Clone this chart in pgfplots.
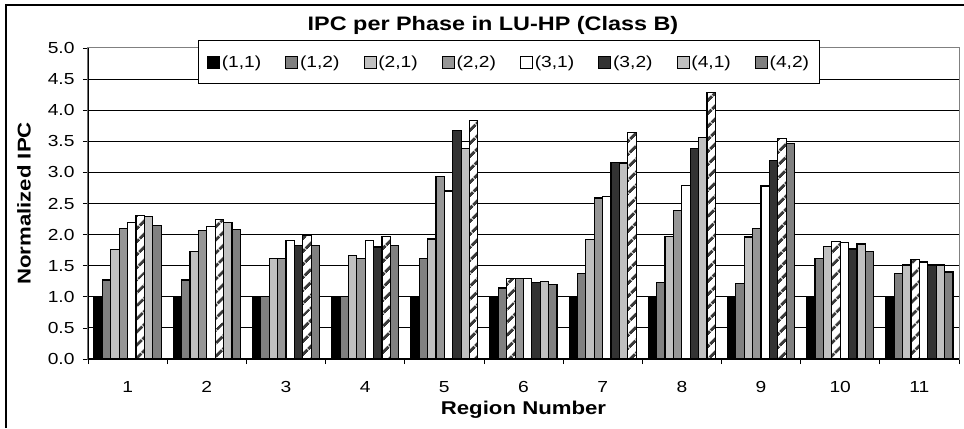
\documentclass[border=0pt]{standalone}
\usepackage{fontspec}
\setmainfont{Liberation Sans}[FakeStretch=1.2]
\usepackage{pgfplots}
\pgfplotsset{compat=1.18}
\usepackage{pgfplotstable}
\usetikzlibrary{patterns.meta}
\definecolor{cA}{HTML}{000000}
\definecolor{cB}{HTML}{808080}
\definecolor{cC}{HTML}{C0C0C0}
\definecolor{cD}{HTML}{969696}
\definecolor{cE}{HTML}{FFFFFF}
\definecolor{cF}{HTML}{333333}
\definecolor{cG}{HTML}{C0C0C0}
\definecolor{cH}{HTML}{808080}
\definecolor{hatch}{HTML}{3A3A3A}
\pgfplotstableread{
g s11 s12 s21 s22 s31 s32 s41 s42
1 1.00 1.27 1.76 2.10 2.20 2.31 2.29 2.14
2 1.00 1.27 1.73 2.07 2.13 2.24 2.20 2.08
3 1.00 1.00 1.61 1.62 1.90 1.82 1.99 1.83
4 1.00 1.01 1.66 1.61 1.91 1.80 1.97 1.82
5 1.00 1.61 1.93 2.94 2.70 3.68 3.38 3.83
6 1.00 1.14 1.30 1.29 1.29 1.23 1.24 1.20
7 1.00 1.38 1.92 2.59 2.61 3.16 3.15 3.64
8 1.00 1.23 1.97 2.39 2.79 3.39 3.56 4.29
9 1.00 1.21 1.96 2.10 2.78 3.19 3.54 3.47
10 1.00 1.61 1.81 1.89 1.87 1.77 1.85 1.73
11 1.00 1.37 1.51 1.60 1.56 1.51 1.51 1.40
}\data
\pgfplotsset{
  sq/.style={legend image code/.code={\draw[##1,line width=0.8bp] (0bp,-6bp) rectangle (12bp,6bp);}},
  hat/.style={draw=black, line width=1.2bp, fill=white, postaction={pattern={Lines[angle=45,distance=10bp,line width=3.5bp]}, pattern color=hatch}}
}
\begin{document}
\begin{tikzpicture}
\path[use as bounding box] (-88bp,-70bp) rectangle (876bp,359bp);
\begin{axis}[
  at={(0,0)}, anchor=south west,
  scale only axis, width=871bp, height=311bp,
  ybar, bar width=0.106,
  xmin=0.5, xmax=11.5, ymin=0, ymax=5,
  enlargelimits=false,
  xtick={0.5,1.5,2.5,3.5,4.5,5.5,6.5,7.5,8.5,9.5,10.5,11.5},
  xticklabels={1,2,3,4,5,6,7,8,9,10,11,{}},
  xticklabel style={anchor=center, xshift=39.59bp, yshift=-23bp, font=\fontsize{16bp}{19bp}\selectfont},
  ytick={0,0.5,...,5},
  yticklabel style={/pgf/number format/.cd, fixed, fixed zerofill, precision=1, assume math mode=true, /tikz/.cd, xshift=-5bp, font=\fontsize{16bp}{19bp}\selectfont},
  tick align=outside, tick pos=left,
  major tick length=5bp,
  tick style={black, line width=0.8bp},
  ymajorgrids, grid style={black, line width=1bp},
  axis line style={draw=gray, line width=1bp},
  every axis title shift=0pt,
  title={\bfseries IPC per Phase in LU-HP (Class B)},
  title style={at={(axis description cs:0.465,1)}, anchor=center, yshift=23bp, font=\fontsize{19.5bp}{23bp}\selectfont},
  xlabel={\bfseries Region Number},
  xlabel style={at={(axis description cs:0.5,0)}, anchor=center, yshift=-51bp, font=\fontsize{18.5bp}{22bp}\selectfont},
  ylabel={\bfseries Normalized IPC},
  ylabel style={at={(axis description cs:-0.0735,0.5)}, anchor=center, font=\fontsize{18.5bp}{22bp}\selectfont},
  legend columns=8,
  legend style={at={(axis description cs:0.4834,0.955)}, anchor=center, draw=black, line width=1bp, fill=white,
    font=\fontsize{16bp}{19bp}\selectfont, inner xsep=8bp, inner ysep=13bp,
    /tikz/every even column/.append style={column sep=22bp}},
  legend cell align=left,
]
\addplot[sq, fill=cA, draw=black, line width=1.2bp, bar shift=-0.371] table[x=g,y=s11]{\data};
\addplot[sq, fill=cB, draw=black, line width=1.2bp, bar shift=-0.265] table[x=g,y=s12]{\data};
\addplot[sq, fill=cC, draw=black, line width=1.2bp, bar shift=-0.159] table[x=g,y=s21]{\data};
\addplot[sq, fill=cD, draw=black, line width=1.2bp, bar shift=-0.053] table[x=g,y=s22]{\data};
\addplot[sq, fill=cE, draw=black, line width=1.2bp, bar shift=0.053] table[x=g,y=s31]{\data};
\addplot[sq, fill=cF, draw=black, line width=1.2bp, bar shift=0.159] table[x=g,y=s32]{\data};
\addplot[sq, fill=cG, draw=black, line width=1.2bp, bar shift=0.265] table[x=g,y=s41]{\data};
\addplot[sq, fill=cH, draw=black, line width=1.2bp, bar shift=0.371] table[x=g,y=s42]{\data};
\legend{(1,1),(1,2),(2,1),(2,2),(3,1),(3,2),(4,1),(4,2)}
% best configuration per region (hatched)
\addplot[hat, forget plot, bar shift=-0.159] coordinates {(6,1.30)};
\addplot[hat, forget plot, bar shift=-0.053] coordinates {(10,1.89) (11,1.60)};
\addplot[hat, forget plot, bar shift=0.159] coordinates {(1,2.31) (2,2.24)};
\addplot[hat, forget plot, bar shift=0.265] coordinates {(3,1.99) (4,1.97) (9,3.54)};
\addplot[hat, forget plot, bar shift=0.371] coordinates {(5,3.83) (7,3.64) (8,4.29)};
\draw[black, line width=1.2bp] (rel axis cs:0,1) -- (rel axis cs:0,0) -- (rel axis cs:1,0);
\end{axis}
\draw[black, line width=1.2bp] (-82bp,-69bp) -- (-82bp,354bp) -- (876bp,354bp);
\end{tikzpicture}
\end{document}
